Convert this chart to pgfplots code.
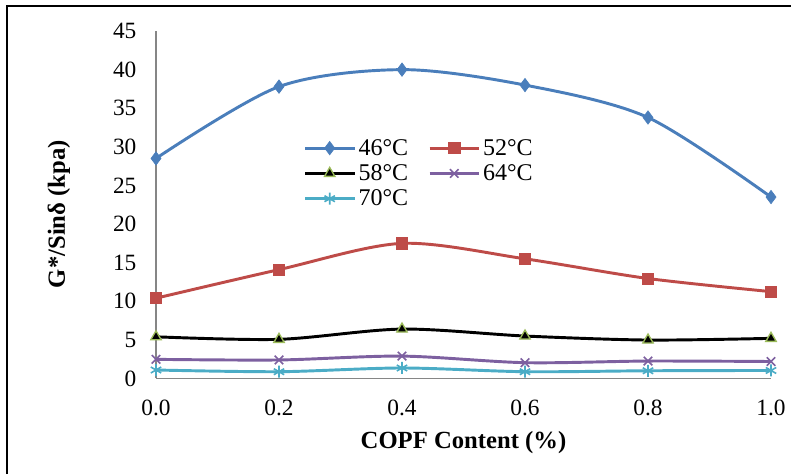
\documentclass[border=0pt]{standalone}
\usepackage{pgfplots}
\pgfplotsset{compat=1.18}
\usepackage{fontspec}
\setmainfont{Liberation Serif}
\definecolor{cblue}{HTML}{4A7EBB}
\definecolor{cred}{HTML}{BE4B48}
\definecolor{cgreen}{HTML}{9BBB59}
\definecolor{cpurple}{HTML}{7D60A0}
\definecolor{ccyan}{HTML}{4BACC6}
\definecolor{axgray}{HTML}{868686}
\begin{document}
\begin{tikzpicture}
\useasboundingbox (0,0) rectangle (593.25pt,355.5pt);
\draw[line width=1.6pt] (5.25pt,0) -- (5.25pt,351pt) -- (593.25pt,351pt);
\begin{axis}[
  at={(117pt,71.625pt)}, anchor=origin,
  scale only axis, width=461.25pt, height=260.6pt,
  xmin=0, xmax=1, ymin=0, ymax=45,
  axis x line*=bottom, axis y line*=left,
  axis line style={draw=axgray, line width=1.4pt, -},
  xtick={0,0.2,0.4,0.6,0.8,1.0},
  ytick={0,5,...,45},
  major tick length=0pt,
  /pgf/number format/assume math mode=true,
  xticklabel={\pgfmathprintnumber[fixed,fixed zerofill,precision=1]{\tick}},
  tick label style={font=\fontsize{17.5}{20}\selectfont},
  yticklabel style={inner sep=0pt, xshift=-14.5pt},
  xticklabel style={inner sep=0pt, yshift=-16pt},
  xlabel={\bfseries COPF Content (\%)},
  ylabel={\bfseries G*/Sinδ (kpa)},
  xlabel style={at={(axis description cs:0.5,-0.185)}, anchor=center, font=\fontsize{18.5}{22}\selectfont},
  ylabel style={at={(axis description cs:-0.158,0.473)}, anchor=center, font=\fontsize{18.5}{22}\selectfont},
  legend columns=2,
  legend cell align=left,
  legend style={draw=none, fill=none, at={(rel axis cs:0.233,0.705)}, anchor=north west,
    font=\fontsize{18}{20}\selectfont, row sep=1.5pt,
    /tikz/every even column/.append style={column sep=13pt}},
  legend image code/.code={\draw[mark repeat=2,mark phase=2] plot coordinates {(0pt,0pt)(18.5pt,0pt)(37pt,0pt)};},
  every axis plot/.append style={line width=2.2pt, smooth, tension=0.5},
]
\addplot[color=cblue, mark=diamond*, mark size=5pt, mark options={fill=cblue, line width=0.5pt}] coordinates {
(0.0,28.5) (0.2,37.8) (0.4,40.0) (0.6,38.0) (0.8,33.8) (1.0,23.5)};
\addlegendentry{46°C}
\addplot[color=cred, mark=square*, mark size=4.2pt, mark options={fill=cred, line width=0.5pt}] coordinates {
(0.0,10.4) (0.2,14.1) (0.4,17.5) (0.6,15.5) (0.8,12.95) (1.0,11.25)};
\addlegendentry{52°C}
\addplot[color=black, mark=triangle*, mark size=4.5pt, mark options={fill=black, draw=cgreen, line width=1pt}] coordinates {
(0.0,5.4) (0.2,5.07) (0.4,6.4) (0.6,5.5) (0.8,4.98) (1.0,5.2)};
\addlegendentry{58°C}
\addplot[color=cpurple, mark=x, mark size=4.5pt, mark options={line width=1.2pt}] coordinates {
(0.0,2.48) (0.2,2.4) (0.4,2.9) (0.6,2.05) (0.8,2.26) (1.0,2.2)};
\addlegendentry{64°C}
\addplot[color=ccyan, mark=asterisk, mark size=4.5pt, mark options={line width=1.2pt}] coordinates {
(0.0,1.1) (0.2,0.88) (0.4,1.36) (0.6,0.88) (0.8,1.0) (1.0,1.04)};
\addlegendentry{70°C}
\end{axis}
\end{tikzpicture}
\end{document}
